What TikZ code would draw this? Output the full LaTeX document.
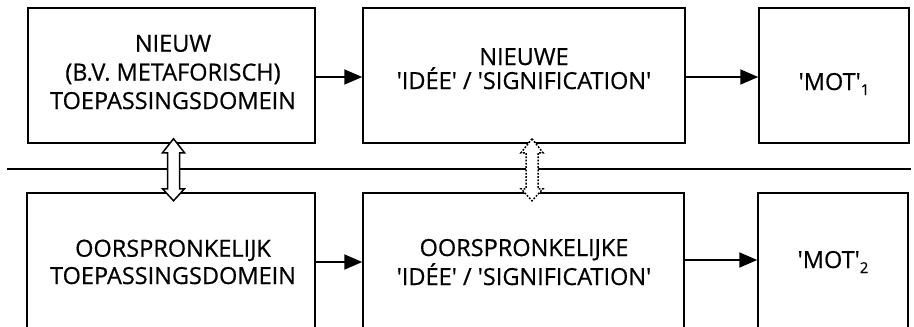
\documentclass[tikz,border=0pt]{standalone}
\usepackage{fontspec}
\setmainfont{Open Sans}[FakeBold=0.6]
\usetikzlibrary{arrows.meta,calc}
\newcommand\qq{\textquotesingle}
\newcommand\lowsub[1]{\raisebox{-5pt}{\fontsize{15}{15}\selectfont #1}}
\begin{document}
\begin{tikzpicture}[x=1pt,y=-1pt,
  box/.style={draw, line width=1.5pt, inner sep=0pt},
  txt/.style={font=\fontsize{23.5}{23.5}\selectfont, anchor=base, inner sep=0pt},
  arr/.style={line width=1.9pt, -{Triangle[length=18pt,width=15pt]}},
  dbl/.style={draw, line width=1.5pt, fill=white, line join=miter},
  dotdbl/.style={dbl, dash pattern=on 1.8pt off 1.5pt},
]
\useasboundingbox (0,0) rectangle (914,327);
\clip (0,0) rectangle (914,327);
% separator
\coordinate (sepL) at (7,169);
\coordinate (sepR) at (911,169);
\draw[line width=1.8pt] (sepL) -- (sepR);
% top boxes
\node[box, minimum width=287pt, minimum height=135pt] (n1) at (171.5,75.5) {};
\node[box, minimum width=322pt, minimum height=135pt] (n2) at (524,75.5) {};
\node[box, minimum width=150pt, minimum height=135pt] (n3) at (834,75.5) {};
% bottom boxes
\node[box, minimum width=288pt, minimum height=150pt] (b1) at (171,268) {};
\node[box, minimum width=321pt, minimum height=150pt] (b2) at (523.5,268) {};
\node[box, minimum width=150pt, minimum height=150pt] (b3) at (833,268) {};
% texts
\node[txt] (t1a) at (173,51.7) {NIEUW};
\node[txt] (t1b) at (173,80.5) {(B.V. METAFORISCH)};
\node[txt] (t1c) at (173,109) {TOEPASSINGSDOMEIN};
\node[txt] (t2a) at (524,65) {NIEUWE};
\node[txt] (t2b) at (524,89) {\qq ID\'EE\qq{} / \qq SIGNIFICATION\qq};
\node[txt] (t3) at (834,90) {\qq MOT\qq\lowsub{1}};
\node[txt] (u1a) at (173,256.7) {OORSPRONKELIJK};
\node[txt] (u1b) at (173,284) {TOEPASSINGSDOMEIN};
\node[txt] (u2a) at (524,256) {OORSPRONKELIJKE};
\node[txt] (u2b) at (524,285) {\qq ID\'EE\qq{} / \qq SIGNIFICATION\qq};
\node[txt] (u3) at (833,268) {\qq MOT\qq\lowsub{2}};
% arrows
\draw[arr] ($(n1.east)+(0,1.5)$) -- ($(n2.west)+(0,1.5)$);
\draw[arr] ($(n2.east)+(0,1.5)$) -- ($(n3.west)+(0,1.5)$);
\draw[arr] ($(b1.east)+(0,-6)$) -- ($(b2.west)+(0,-6)$);
\draw[arr] ($(b2.east)+(0,-8)$) -- ($(b3.west)+(0,-8)$);
% double arrows
\draw[dbl] ([shift={(2,-5)}]n1.south) -- ++(11,14) -- ++(-5,0) -- ++(0,36) -- ++(5,0)
  -- ++(-11,12) -- ++(-11,-12) -- ++(5,0) -- ++(0,-36) -- ++(-5,0) -- cycle;
\draw[dotdbl] ([shift={(8,-5)}]n2.south) -- ++(11,14) -- ++(-5,0) -- ++(0,36) -- ++(5,0)
  -- ++(-11,12) -- ++(-11,-12) -- ++(5,0) -- ++(0,-36) -- ++(-5,0) -- cycle;
\end{tikzpicture}
\end{document}
